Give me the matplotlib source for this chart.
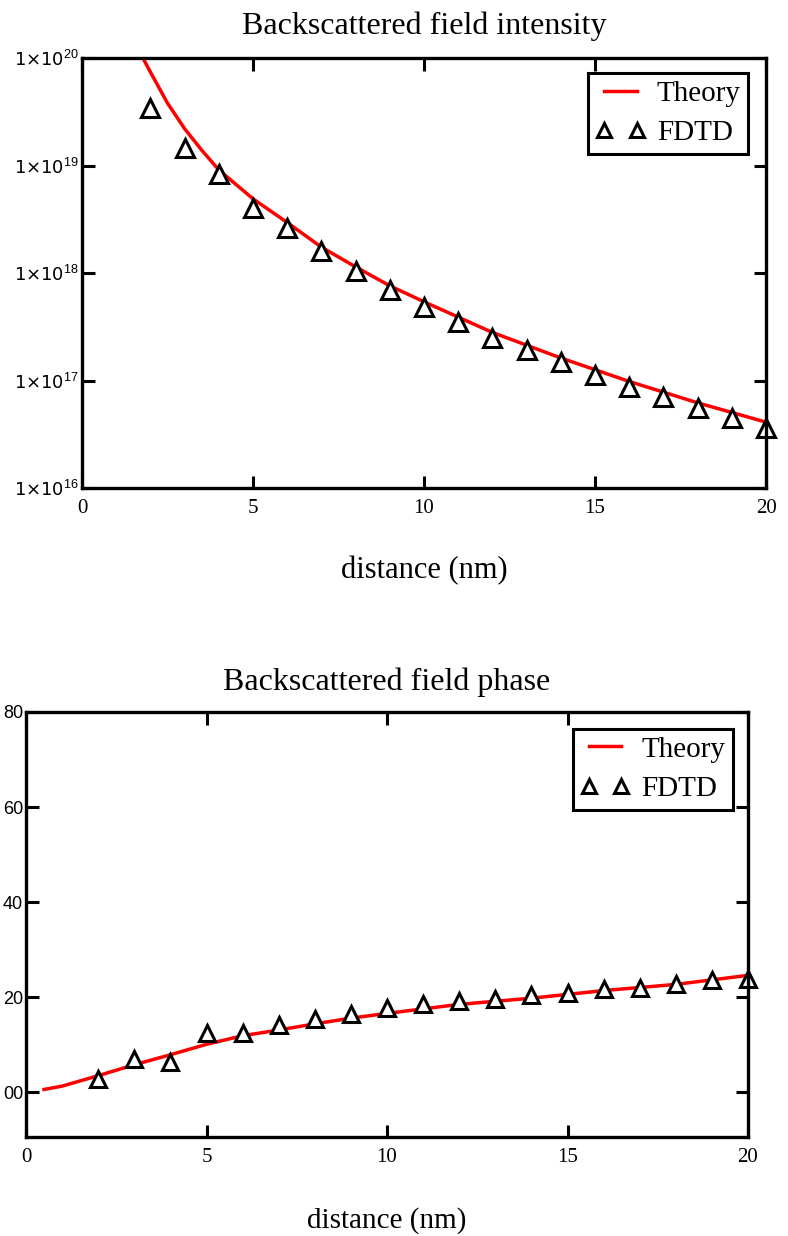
import matplotlib
matplotlib.use("Agg")
import matplotlib.pyplot as plt

plt.rcParams['mathtext.fontset'] = 'custom'
plt.rcParams['mathtext.rm'] = 'Liberation Sans'
plt.rcParams['mathtext.it'] = 'Liberation Sans'

# Intensité rétrodiffusée
fdtd_x = [2, 3, 4, 5, 6, 7, 8, 9, 10, 11, 12, 13, 14, 15, 16, 17, 18, 19, 20]
fdtd_int = [3.4e19, 1.46e19, 8.3e18, 4.0e18, 2.6e18, 1.6e18, 1.04e18, 6.95e17, 4.8e17,
            3.5e17, 2.48e17, 1.92e17, 1.49e17, 1.12e17, 8.7e16, 7.0e16, 5.5e16, 4.5e16, 3.6e16]
theo_x = [1.78, 2, 2.5, 3, 3.5, 4, 5, 6, 7, 8, 9, 10, 12, 14, 16, 18, 20]
theo_int = [1.0e20, 7.4e19, 3.8e19, 2.2e19, 1.39e19, 9.1e18, 4.9e18, 2.95e18, 1.74e18,
            1.14e18, 7.6e17, 5.4e17, 2.8e17, 1.62e17, 9.8e16, 6.2e16, 4.1e16]
int_ticks = [1e16, 1e17, 1e18, 1e19, 1e20]
int_labels = [r"1×10$^{16}$", r"1×10$^{17}$", r"1×10$^{18}$", r"1×10$^{19}$", r"1×10$^{20}$"]

# Phase rétrodiffusée
fdtd_phase = [102.9, 107.1, 106.3, 112.5, 112.5, 114.2, 115.4, 116.5, 117.7, 118.5,
              119.2, 119.6, 120.4, 120.8, 121.7, 121.9, 122.7, 123.7, 123.9]
theo_px = [0.5, 1, 2, 3, 4, 5, 6, 7, 8, 9, 10, 12, 14, 16, 18, 20]
theo_phase = [100.6, 101.3, 103.5, 105.8, 107.9, 110.1, 111.9, 113.1, 114.4, 115.6,
              116.6, 118.5, 119.8, 121.4, 122.7, 124.6]
phase_ticks = [100, 120, 140, 160, 180]
phase_labels = ["00", "20", "40", "60", "80"]

x_ticks = [0, 5, 10, 15, 20]
x_labels = ["0", "5", "10", "15", "20"]

serif = 'Liberation Serif'
sans = 'Liberation Sans'


def style_axes(ax):
    for s in ax.spines.values():
        s.set_linewidth(2.4)
    ax.tick_params(axis='both', which='major', direction='in', length=9, width=2.2,
                   top=True, right=True)
    ax.tick_params(axis='y', which='minor', left=False, right=False)
    ax.tick_params(axis='x', pad=8)
    ax.tick_params(axis='y', pad=2)
    ax.set_xticks(x_ticks)
    ax.set_xticklabels(x_labels, fontfamily=serif, fontsize=15)
    ax.set_xlim(0, 20)


def add_legend(ax, anchor):
    leg = ax.legend(loc='upper right', bbox_to_anchor=anchor, borderaxespad=0,
                    prop={'family': serif, 'size': 21}, fancybox=False,
                    framealpha=1, edgecolor='black', markerscale=0.8, numpoints=2,
                    handlelength=1.7, handletextpad=0.4, labelspacing=0.45,
                    borderpad=0.25)
    leg.get_frame().set_linewidth(2.2)


fig = plt.figure(figsize=(7.88, 12.36), dpi=100)

# graphe du haut
ax1 = fig.add_axes([82 / 788, 1 - 488 / 1236, 684 / 788, 430 / 1236])
ax1.plot(theo_x, theo_int, color='red', lw=2.5, label='Theory')
ax1.plot(fdtd_x, fdtd_int, linestyle='none', marker='^', ms=12.5, mfc='white',
         mec='black', mew=2.2, label='FDTD', clip_on=False)
ax1.set_yscale('log')
ax1.set_ylim(1e16, 1e20)
style_axes(ax1)
ax1.set_yticks(int_ticks)
ax1.set_yticklabels(int_labels, fontsize=13)
ax1.set_title('Backscattered field intensity', fontfamily=serif, fontsize=23, pad=17)
ax1.set_xlabel('distance (nm)', fontfamily=serif, fontsize=22, labelpad=27)
add_legend(ax1, (0.974, 0.965))

# graphe du bas
ax2 = fig.add_axes([26 / 788, 1 - 1137 / 1236, 722 / 788, 425 / 1236])
ax2.plot(theo_px, theo_phase, color='red', lw=2.5, label='Theory')
ax2.plot(fdtd_x, fdtd_phase, linestyle='none', marker='^', ms=12, mfc='white',
         mec='black', mew=2.2, label='FDTD', clip_on=False)
ax2.set_ylim(90.6, 179.2)
style_axes(ax2)
ax2.set_yticks(phase_ticks)
ax2.set_yticklabels(phase_labels, fontfamily=sans, fontsize=13)
ax2.set_title('Backscattered field phase', fontfamily=serif, fontsize=23, pad=16)
ax2.set_xlabel('distance (nm)', fontfamily=serif, fontsize=21, labelpad=29)
add_legend(ax2, (0.979, 0.96))

fig.savefig('out.png', dpi=100)
